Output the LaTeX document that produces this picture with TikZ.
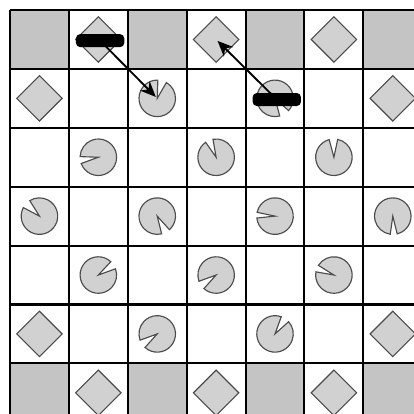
\documentclass[tikz,border=0pt]{standalone}
\usepackage{tikz}
\usetikzlibrary{arrows.meta,shapes.geometric}
\tikzset{
	board/.style={line width=1pt,black},
	cellgray/.style={fill=black!23},
	pac/.style={fill=black!18,draw=black!70,line width=0.55pt},
	gem/.style={diamond,fill=black!18,draw=black!70,line width=0.55pt,minimum width=0.78cm,minimum height=0.78cm,inner sep=0pt},
	bar/.style={fill=black,rounded corners=2pt,minimum width=0.82cm,minimum height=0.22cm,inner sep=0pt},
	mv/.style={-{Stealth[length=7.5pt,width=6.5pt]},line width=0.9pt,shorten >=1pt},
}
\newcommand{\pacman}[3]{\filldraw[pac] (#1) -- ++(#3:0.31) arc[start angle=#3,end angle=#2+360,radius=0.31] -- cycle;}

\begin{document}
\begin{tikzpicture}
				\useasboundingbox (-0.17,0.17) rectangle (6.86,-6.86);
				\clip (-0.17,0.17) rectangle (6.86,-6.86);
				\foreach \c in {0,2,4,6} {
					\fill[cellgray] (\c,0) rectangle ++(1,-1);
					\fill[cellgray] (\c,-6) rectangle ++(1,-1);
				}
				\foreach \i in {0,...,7} {
					\draw[board] (\i,0) -- (\i,-7.5);
					\draw[board] (0,-\i) -- (7.5,-\i);
				}
				\node[gem] (d01) at (1.5,-0.5) {};
				\node[gem] (d03) at (3.5,-0.5) {};
				\node[gem] (d05) at (5.5,-0.5) {};
				\node[gem] (d10) at (0.5,-1.5) {};
				\node[gem] (d16) at (6.5,-1.5) {};
				\node[gem] (d50) at (0.5,-5.5) {};
				\node[gem] (d56) at (6.5,-5.5) {};
				\node[gem] (d61) at (1.5,-6.5) {};
				\node[gem] (d63) at (3.5,-6.5) {};
				\node[gem] (d65) at (5.5,-6.5) {};
				\coordinate (p12) at (2.5,-1.5);
				\coordinate (p14) at (4.5,-1.5);
				\coordinate (p21) at (1.5,-2.5);
				\coordinate (p23) at (3.5,-2.5);
				\coordinate (p25) at (5.5,-2.5);
				\coordinate (p30) at (0.5,-3.5);
				\coordinate (p32) at (2.5,-3.5);
				\coordinate (p34) at (4.5,-3.5);
				\coordinate (p36) at (6.5,-3.5);
				\coordinate (p41) at (1.5,-4.5);
				\coordinate (p43) at (3.5,-4.5);
				\coordinate (p45) at (5.5,-4.5);
				\coordinate (p52) at (2.5,-5.5);
				\coordinate (p54) at (4.5,-5.5);
				\pacman{p12}{60}{88}
				\pacman{p14}{-75}{-42}
				\pacman{p21}{178}{200}
				\pacman{p23}{100}{125}
				\pacman{p25}{78}{105}
				\pacman{p30}{122}{152}
				\pacman{p32}{-76}{-48}
				\pacman{p34}{168}{186}
				\pacman{p36}{-98}{-76}
				\pacman{p41}{20}{47}
				\pacman{p43}{200}{228}
				\pacman{p45}{148}{170}
				\pacman{p52}{200}{228}
				\pacman{p54}{42}{70}
				\coordinate (h1) at (1.53,-0.52);
				\coordinate (h2) at (4.53,-1.52);
				\draw[mv] (h1) -- (p12);
				\draw[mv] (h2) -- (d03.center);
				\node[bar] (bar1) at (h1) {};
				\node[bar] (bar2) at (h2) {};
			\end{tikzpicture}
\end{document}
